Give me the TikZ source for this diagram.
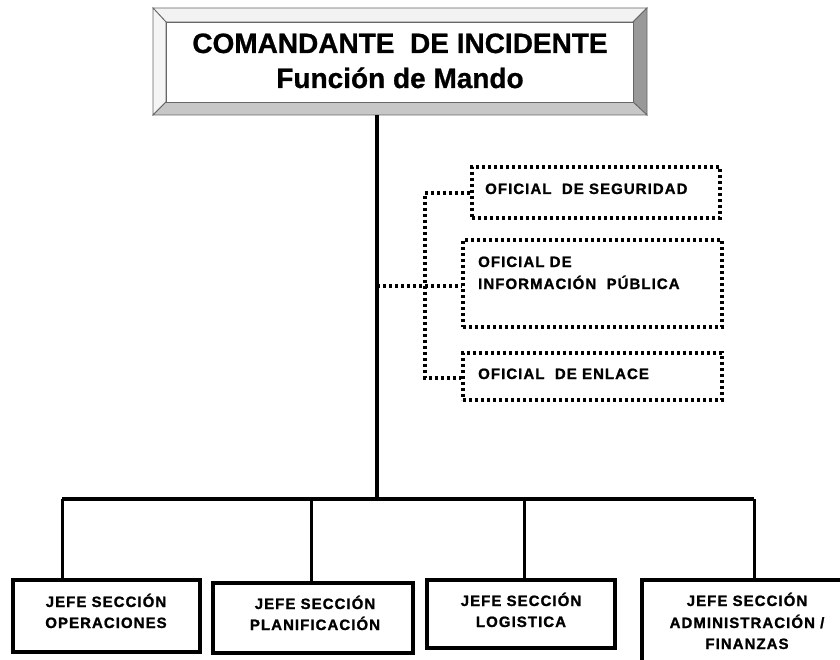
\documentclass[tikz,border=0pt]{standalone}
\usepackage{fontspec}
\setmainfont{Liberation Sans}
\begin{document}
\begin{tikzpicture}[x=1pt,y=-1pt,
  linea/.style={line width=3pt,black},
  dotline/.style={line width=3.4pt,dash pattern=on 3pt off 3pt},
  offbox/.style={draw,dotline,rectangle,inner sep=0pt},
  jefebox/.style={draw,line width=4pt,rectangle,inner sep=0pt},
  small/.style={font=\fontsize{15}{21}\selectfont\bfseries\addfontfeature{LetterSpace=7,FakeBold=1.2}},
  big/.style={font=\fontsize{28}{32}\selectfont\bfseries\addfontfeature{FakeBold=0.8}},
  bevel/.style={draw=black!60,line width=0.8pt}]
\useasboundingbox (0,0) rectangle (840,660);

% top box (bevelled frame)
\node[rectangle,minimum width=494pt,minimum height=107pt,inner sep=0pt] (cmd) at (400,61.5) {};
\filldraw[bevel,fill=black!5] (153,8) -- (647,8) -- (633,22) -- (166,22) -- cycle;
\filldraw[bevel,fill=black!4] (153,8) -- (166,22) -- (166,102) -- (153,115) -- cycle;
\filldraw[bevel,fill=black!40] (647,8) -- (647,115) -- (633,102) -- (633,22) -- cycle;
\filldraw[bevel,fill=black!22] (153,115) -- (647,115) -- (633,102) -- (166,102) -- cycle;
\filldraw[bevel,fill=white] (166,22) rectangle (633,102);
\node[big,anchor=base] (t0a) at (400,53) {COMANDANTE\ \ DE INCIDENTE};
\node[big,anchor=base] (t0b) at (400,88) {Función de Mando};

% staff (dotted) boxes
\node[offbox,minimum width=248pt,minimum height=51pt] (sa) at (596,192.5) {};
\node[offbox,minimum width=259pt,minimum height=87pt] (sb) at (592.5,283.5) {};
\node[offbox,minimum width=259pt,minimum height=47pt] (sc) at (592.5,376.5) {};
\node[small,anchor=base west,inner sep=0pt] (ta) at (485,194) {OFICIAL\ \ DE SEGURIDAD};
\node[small,anchor=base west,inner sep=0pt] (tb1) at (478,267) {OFICIAL DE};
\node[small,anchor=base west,inner sep=0pt] (tb2) at (478,289) {INFORMACIÓN\ \ PÚBLICA};
\node[small,anchor=base west,inner sep=0pt] (tc) at (478,379) {OFICIAL\ \ DE ENLACE};

% section boxes
\node[jefebox,minimum width=187pt,minimum height=72pt] (b1) at (106.5,616) {};
\node[jefebox,minimum width=200pt,minimum height=70pt] (b2) at (313,618) {};
\node[jefebox,minimum width=188pt,minimum height=68pt] (b3) at (521,614) {};
\begin{scope}
\clip (0,0) rectangle (840,660);
\node[jefebox,minimum width=210pt,minimum height=92pt] (b4) at (747,626) {};
\end{scope}
\node[small,anchor=base] (t1a) at (106,607) {JEFE SECCIÓN};
\node[small,anchor=base] (t1b) at (106,628) {OPERACIONES};
\node[small,anchor=base] (t2a) at (315,609) {JEFE SECCIÓN};
\node[small,anchor=base] (t2b) at (315,630) {PLANIFICACIÓN};
\node[small,anchor=base] (t3a) at (521,606) {JEFE SECCIÓN};
\node[small,anchor=base] (t3b) at (521,627) {LOGISTICA};
\node[small,anchor=base] (t4a) at (747,606) {JEFE SECCIÓN};
\node[small,anchor=base] (t4b) at (747,628) {ADMINISTRACIÓN /};
\node[small,anchor=base] (t4c) at (747,649) {FINANZAS};

% connectors
\coordinate (j) at (377,499);
\coordinate (m) at (377,286);
\coordinate (ba) at (425,193);
\coordinate (bc) at (425,378);
\coordinate (d1) at (62,499);
\coordinate (d2) at (311,499);
\coordinate (d3) at (524,499);
\coordinate (d4) at (754,499);
\draw[linea,line width=3.6pt] (cmd.south -| j) -- (j);
\draw[linea,line width=3.4pt] (d1) -- (d4);
\draw[linea] (d1) -- (d1 |- b1.north);
\draw[linea] (d2) -- (d2 |- b2.north);
\draw[linea] (d3) -- (d3 |- b3.north);
\draw[linea] (d4) -- (d4 |- b4.north);
\draw[dotline] (m) -- (m -| sb.west);
\draw[dotline] (ba -| sa.west) -- (ba) -- (bc) -- (bc -| sc.west);
\end{tikzpicture}
\end{document}
